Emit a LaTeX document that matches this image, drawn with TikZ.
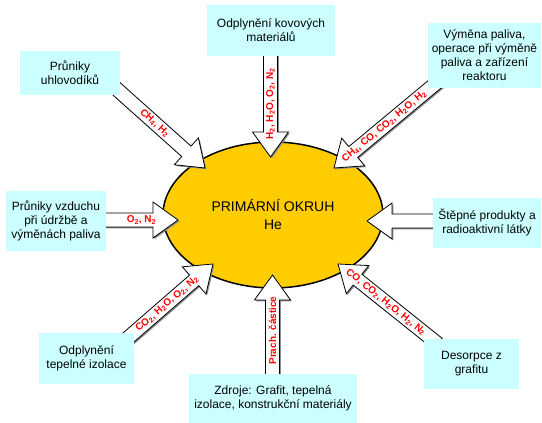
\documentclass[tikz,border=0pt]{standalone}
\usepackage{fontspec}
\setmainfont{Liberation Sans}
\usetikzlibrary{calc,shadows,shapes.geometric}
\pgfdeclarelayer{bg}\pgfdeclarelayer{mid}\pgfsetlayers{bg,mid,main}
\definecolor{boxcyan}{HTML}{CCFFFF}
\definecolor{gold}{HTML}{FFCC00}
\tikzset{
  box/.style={fill=boxcyan, draw=none, align=center, inner sep=0pt,
    font=\fontsize{12}{14}\selectfont},
  blockarr/.style={draw=black, line width=0.8pt, fill=white, line join=miter,
    drop shadow={shadow xshift=1.3pt, shadow yshift=-1.3pt, fill=black!45, opacity=1}},
  lbl/.style={text=red, inner sep=0pt, font=\fontsize{10}{10}\bfseries\selectfont},
}
\newcommand\blockarrow[2]{%
  \coordinate (ba-h) at ($(#2)!25pt!(#1)$);
  \draw[blockarr] ($(#1)!7pt!90:(#2)$) -- ($(ba-h)!7pt!90:(#2)$) -- ($(ba-h)!18pt!90:(#2)$) -- (#2)
    -- ($(ba-h)!18pt!-90:(#2)$) -- ($(ba-h)!7pt!-90:(#2)$) -- ($(#1)!7pt!-90:(#2)$) -- cycle;}
\begin{document}
\begin{tikzpicture}[x=1pt,y=1pt]
\useasboundingbox (0,0) rectangle (542,423);
% boxes
\node[box, minimum width=128pt, minimum height=51pt] (b1) at (271,392.5) {Odplynění kovových\\materiálů};
\node[box, minimum width=100pt, minimum height=44pt] (b2) at (70,350) {Průniky\\uhlovodíků};
\node[box, minimum width=113pt, minimum height=65pt] (b3) at (484.5,367.5) {Výměna paliva,\\operace při výměně\\paliva a zařízení\\reaktoru};
\node[box, minimum width=100pt, minimum height=60pt] (b4) at (56,202) {Průniky vzduchu\\při údržbě a\\výměnách paliva};
\node[box, minimum width=108pt, minimum height=50pt] (b5) at (487,200) {Štěpné produkty a\\radioaktivní látky};
\node[box, minimum width=95pt, minimum height=51pt] (b6) at (86.5,64.5) {Odplynění\\tepelné izolace};
\node[box, minimum width=168pt, minimum height=49pt] (b7) at (273,24.5) {Zdroje: Grafit, tepelná\\izolace, konstrukční materiály};
\node[box, minimum width=95pt, minimum height=50pt] (b8) at (471.5,59) {Desorpce z\\grafitu};
% core
\begin{pgfonlayer}{bg}
\node[ellipse, draw=black, line width=1.5pt, fill=gold, minimum width=220pt, minimum height=146pt,
  inner sep=0pt, align=center, font=\fontsize{14}{18}\selectfont] (E) at (273,208) {PRIMÁRNÍ OKRUH\\He};
\end{pgfonlayer}
% arrow ends
\coordinate (s1) at ($(b1.south)+(-0.5,6)$);  \coordinate (t1) at (270.5,266);
\coordinate (s2) at ($(b2.south east)+(-10,12)$); \coordinate (t2) at (205,255);
\coordinate (s3) at ($(b3.south west)+(13,9)$);  \coordinate (t3) at (334,255);
\coordinate (s4) at ($(b4.east)+(-6,1)$);   \coordinate (t4) at (178,203);
\coordinate (s5) at ($(b5.west)+(7,2)$);    \coordinate (t5) at (367,202);
\coordinate (s6) at ($(b6.north east)+(-13,-11)$); \coordinate (t6) at (213,159);
\coordinate (s7) at ($(b7.north)+(-0.5,-6)$); \coordinate (t7) at (272.5,148);
\coordinate (s8) at ($(b8.north west)+(14,-5)$); \coordinate (t8) at (338,159);
\begin{pgfonlayer}{mid}
\blockarrow{s1}{t1}
\blockarrow{s2}{t2}
\blockarrow{s3}{t3}
\blockarrow{s4}{t4}
\blockarrow{s5}{t5}
\blockarrow{s6}{t6}
\blockarrow{s7}{t7}
\blockarrow{s8}{t8}
\path (s1) -- (t1) node[pos=.5, rotate=90, lbl] {H\textsubscript{2}, H\textsubscript{2}O, O\textsubscript{2}, N\textsubscript{2}};
\path (s2) -- (t2) node[pos=.47, sloped, lbl] {CH\textsubscript{4}, H\textsubscript{2}};
\path (s3) -- (t3) node[pos=.53, sloped, lbl] {CH\textsubscript{4}, CO, CO\textsubscript{2}, H\textsubscript{2}O, H\textsubscript{2}};
\path (s4) -- (t4) node[pos=.53, lbl] {O\textsubscript{2}, N\textsubscript{2}};
\path (s6) -- (t6) node[pos=.5, sloped, lbl] {CO\textsubscript{2}, H\textsubscript{2}O, O\textsubscript{2}, N\textsubscript{2}};
\path (s7) -- (t7) node[pos=.47, rotate=90, lbl] {Prach. částice};
\path (s8) -- (t8) node[pos=.52, sloped, lbl] {CO, CO\textsubscript{2}, H\textsubscript{2}O, H\textsubscript{2}, N\textsubscript{2}};
\end{pgfonlayer}
\end{tikzpicture}
\end{document}
